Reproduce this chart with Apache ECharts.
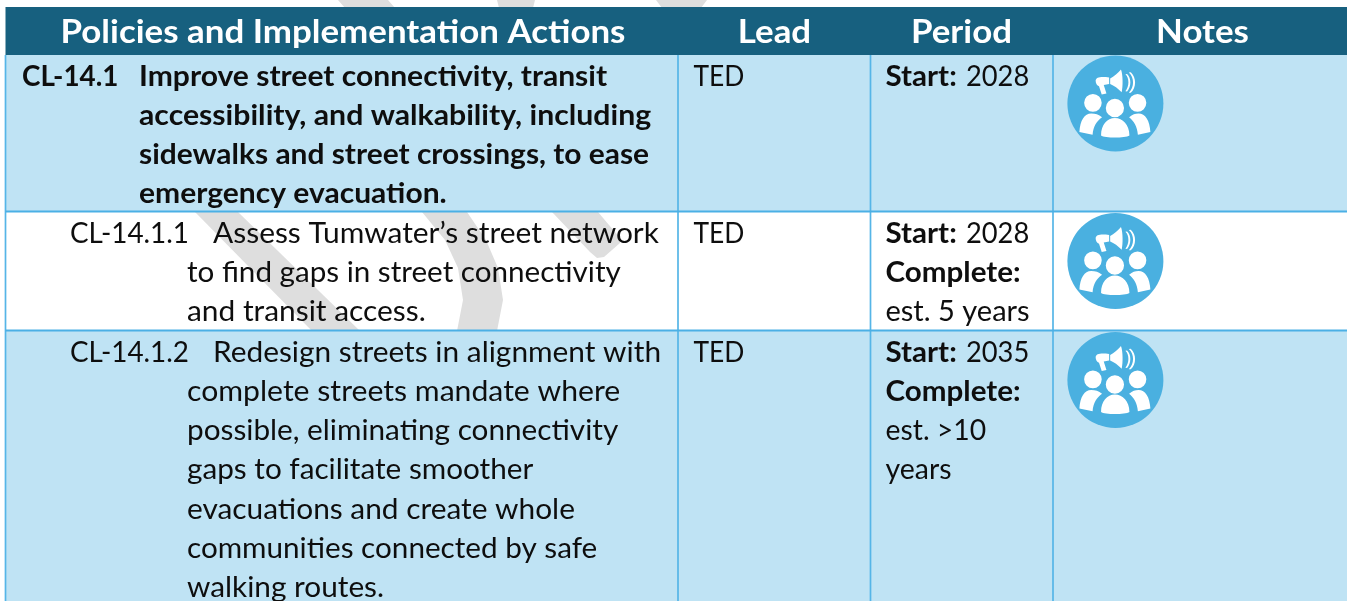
<!DOCTYPE html>
<html><head><meta charset="utf-8">
<style>html,body{margin:0;padding:0;background:#fff}#c{width:1347px;height:601px}</style>
<script src="https://cdn.jsdelivr.net/npm/echarts@6/dist/echarts.min.js"></script>
</head><body><div id="c"></div>
<script>
const headers = ['Policies and Implementation Actions','Lead','Period','Notes'];
const rowIds = ['CL-14.1','CL-14.1.1','CL-14.1.2'];
const rowLines = [
 ['Improve street connectivity, transit','accessibility, and walkability, including','sidewalks and street crossings, to ease','emergency evacuation.'],
 ['Assess Tumwater\u2019s street network','to find gaps in street connectivity','and transit access.'],
 ['Redesign streets in alignment with','complete streets mandate where','possible, eliminating connectivity','gaps to facilitate smoother','evacuations and create whole','communities connected by safe','walking routes.']
];
const leads = ['TED','TED','TED'];
const periodBold = [['Start:'],['Start:','Complete:'],['Start:','Complete:']];
const periodYears = ['2028','2028','2035'];
const periodNotes = [[],['est. 5 years'],['est. >10','years']];

// layout
const colEdges = [5.5,678,870.5,1053,1347];
const rowEdges = [55,211.5,330.5,601];
const headerTop = 7;
const headerCx = [343,774.5,961.5,1202.5];
const firstMid = [76.5,233.5,352.5];
const lineH = 39.2;
const FONT='Lato';
const SIZE=29;
const lineFit = [[1.036,1.042,1.032,1.035],[1.031,1.021,1.03],[1.029,1.04,1.025,1.024,1.029,1.023,1.027]];
const noteFit = {'est. 5 years':1.0,'est. >10':0.977,'years':0.98};
const iconCentres = [[1115.4,103.5],[1115.4,261],[1115.4,380]];
const glyph='path://M104 187a26 26 0 1 0 52 0a26 26 0 1 0-52 0ZM168 202a27 27 0 1 0 54 0a27 27 0 1 0-54 0ZM236 187a26 26 0 1 0 52 0a26 26 0 1 0-52 0ZM90 272C92 238 105 218 125 218C137 218 147 221 157 229C141 240 131 256 129 280ZM154 282C154 250 172 231 195 231C218 231 238 250 238 282C225 290 165 290 154 282ZM237 229C247 221 255 218 265 218C285 218 298 238 300 272L263 280C261 256 251 240 237 229ZM181 116C192 110 205 100 213 90C219 105 219 140 215 156C205 146 192 136 181 132ZM138 122C140 113 150 110 178 113L178 132L162 135L170 160L156 163L148 139C142 137 138 130 138 122ZM226 104C238 115 238 140 226 153L231 154C244 140 244 115 231 103ZM236 99C253 113 253 143 236 158L242 158C259 143 259 113 242 98Z';

const watermark = [
 [[338,0],[388,0],[395,8],[345,8]],
 [[497,0],[535,0],[533,8],[499,8]],
 [[656,0],[707,0],[701,8],[662,8]],
 [[195,212],[238,212],[360,331],[312,331]],
 [[422,212],[467,212],[486,240],[498,268],[503,300],[497,331],[457,331],[463,300],[458,268],[445,240]],
 [[552,212],[598,212],[620,238],[620,243],[604,257],[597,258],[590,252]]
];

const cells = [];
cells.push({x0:colEdges[0],x1:colEdges[4],y0:headerTop,y1:rowEdges[0],fill:'#17607F'});
cells.push({x0:colEdges[0],x1:colEdges[4],y0:rowEdges[0],y1:rowEdges[1],fill:'#BFE3F4'});
cells.push({x0:colEdges[0],x1:colEdges[4],y0:rowEdges[2],y1:rowEdges[3],fill:'#BFE3F4'});
const lines=[];
colEdges.slice(0,4).forEach(x=>lines.push({x0:x,x1:x,y0:rowEdges[0],y1:rowEdges[3],w:1.7,c:'#55B5E7'}));
[rowEdges[1],rowEdges[2]].forEach(y=>lines.push({x0:colEdges[0],x1:colEdges[4],y0:y,y1:y,w:2,c:'#4BB0E5'}));

const texts=[];
headers.forEach((h,i)=>texts.push({x:headerCx[i],y:32.5,t:h,align:'center',b:1,fill:'#fff',size:33,sx:1.057}));
rowIds.forEach((id,r)=>{
  const idx=[22,70,70][r], tx=[139,213,213][r], cont=[139,187,187][r], bold=r===0;
  texts.push({x:idx,y:firstMid[r],t:id,b:bold,sx:0.96});
  rowLines[r].forEach((l,i)=>texts.push({x:i?cont:tx,y:firstMid[r]+i*lineH,t:l,b:bold,sx:lineFit[r][i]}));
  texts.push({x:693.5,y:firstMid[r],t:leads[r],sx:0.91});
  periodBold[r].forEach((t,i)=>texts.push({x:885.5,y:firstMid[r]+i*lineH,t,b:1,sx:1.02}));
  texts.push({x:966,y:firstMid[r],t:periodYears[r],sx:0.94});
  periodNotes[r].forEach((t,i)=>texts.push({x:885.5,y:firstMid[r]+(i+2)*lineH,t,sx:noteFit[t]}));
});

const chart=echarts.init(document.getElementById('c'),null,{renderer:'canvas'});
function rectFor(api,c){const a=api.coord([c.x0,c.y0]),b=api.coord([c.x1,c.y1]);return {x:a[0],y:a[1],width:b[0]-a[0],height:b[1]-a[1]};}
chart.setOption({
 animation:false,
 grid:{left:0,right:0,top:0,bottom:0},
 xAxis:{type:'value',min:0,max:1347,show:false},
 yAxis:{type:'value',min:0,max:601,inverse:true,show:false},
 series:[
  {type:'custom',z:1,silent:true,clip:true,data:watermark.map((p,i)=>[i]),
   renderItem:(p,api)=>({type:'polygon',shape:{points:watermark[api.value(0)].map(q=>api.coord(q))},style:{fill:'#DEDEDE'}})},
  {type:'custom',z:2,silent:true,clip:true,data:cells.map((c,i)=>[i]),
   renderItem:(p,api)=>{const c=cells[api.value(0)];return {type:'rect',shape:rectFor(api,c),style:{fill:c.fill}};}},
  {type:'custom',z:3,silent:true,clip:true,data:lines.map((c,i)=>[i]),
   renderItem:(p,api)=>{const c=lines[api.value(0)];const a=api.coord([c.x0,c.y0]),b=api.coord([c.x1,c.y1]);
     return {type:'line',shape:{x1:a[0],y1:a[1],x2:b[0],y2:b[1]},style:{stroke:c.c,lineWidth:c.w}};}},
  {type:'custom',z:4,silent:true,clip:false,data:texts.map((c,i)=>[i]),
   renderItem:(p,api)=>{const c=texts[api.value(0)];const a=api.coord([c.x,c.y]);const size=c.size||SIZE;
     const style={text:c.t,fontFamily:FONT,fontSize:size,fontWeight:c.b?700:400,fill:c.fill||'#0E0E0E',align:c.align||'left',verticalAlign:'middle',x:0,y:0};
     return {type:'text',x:a[0],y:a[1],scaleX:c.sx||1,style};}},
  {type:'scatter',z:5,silent:true,symbol:'circle',symbolSize:96,itemStyle:{color:'#4AB0E0',opacity:1},data:iconCentres},
  {type:'scatter',z:6,silent:true,symbol:glyph,symbolSize:[71,68],symbolKeepAspect:false,itemStyle:{color:'#fff',opacity:1},data:iconCentres.map(c=>[c[0]-0.5,c[1]])}
 ]
});
</script></body></html>
